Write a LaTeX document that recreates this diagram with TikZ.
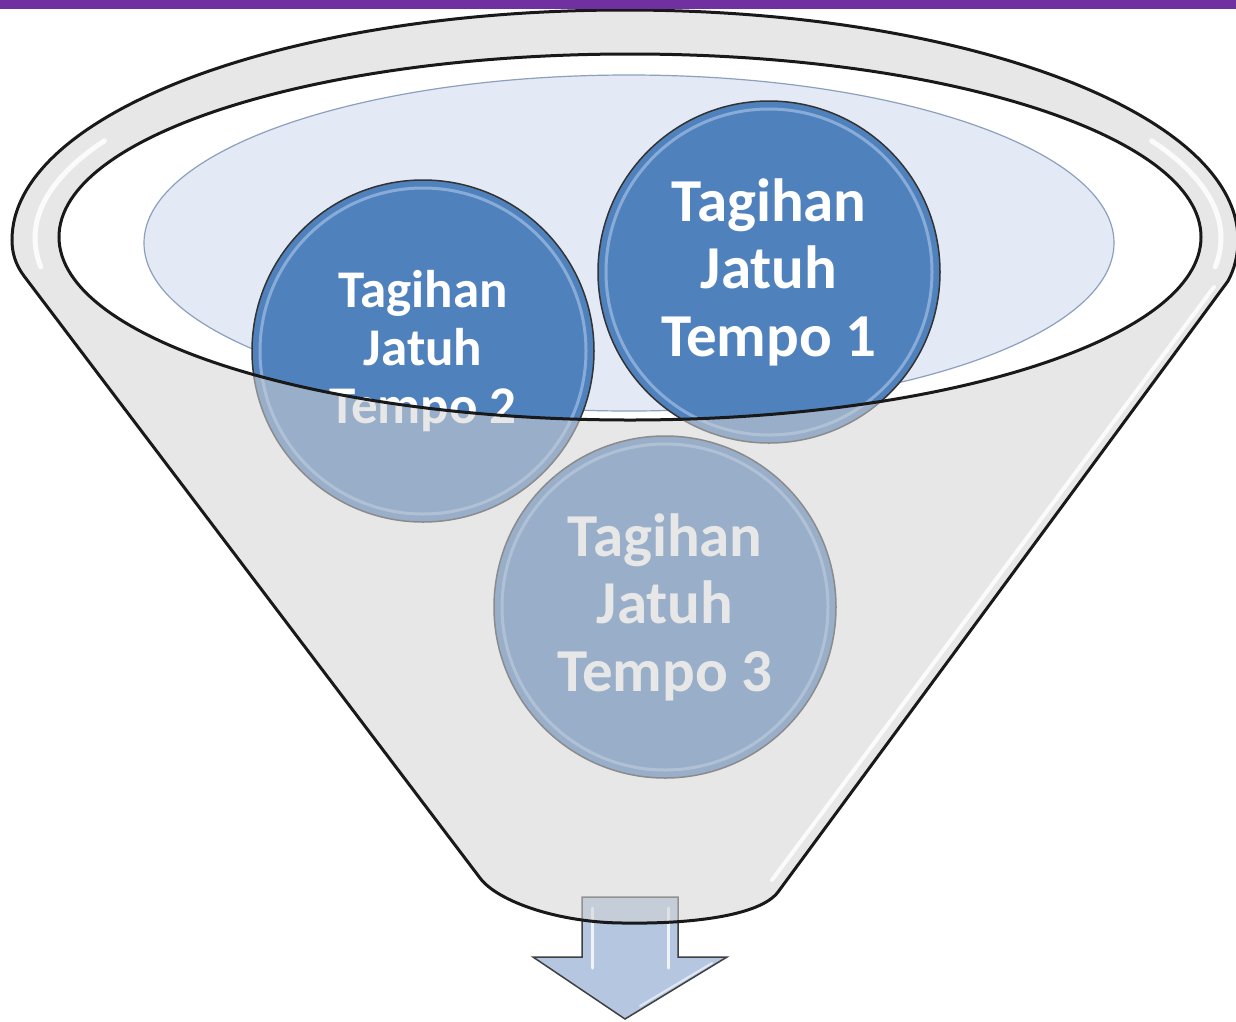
\documentclass[tikz,border=0pt]{standalone}
\usepackage{fontspec}
\setmainfont{Carlito}
\definecolor{cblue}{HTML}{4F81BD}
\definecolor{cring}{HTML}{B8D0EE}
\definecolor{cwater}{HTML}{E4EAF5}
\definecolor{cwaterline}{HTML}{8CA0BD}
\definecolor{cgray}{HTML}{D4D4D4}
\definecolor{carrow}{HTML}{B4C6E0}
\definecolor{cpurple}{HTML}{7030A0}
\begin{document}
\begin{tikzpicture}[x=1pt,y=-1pt,
  bubble/.style={circle, minimum size=342pt, inner sep=0pt, fill=cblue,
    draw=black!80, line width=1.5pt, text=white, align=center,
    font=\bfseries\fontsize{61}{67.5}\selectfont},
  smallbubble/.style={bubble, font=\bfseries\fontsize{53}{58}\selectfont},
  ring/.style={draw=cring, line width=3pt, opacity=0.55},
  outline/.style={draw=black!90, line width=3pt},
  gloss/.style={draw=white, line width=5pt, opacity=0.85, line cap=round}]
\useasboundingbox (0,0) rectangle (1236,1021);
\fill[white] (0,0) rectangle (1236,1021);
% water surface
\draw[fill=cwater, draw=cwaterline, line width=1.2pt] (629,243) ellipse [x radius=485, y radius=168];
% circles
\node[smallbubble] (c2) at (423,351) {Tagihan\\Jatuh\\Tempo 2};
\draw[ring] (c2.center) circle (163);
\node[bubble] (c1) at (769,272) {Tagihan\\Jatuh\\Tempo 1};
\draw[ring] (c1.center) circle (163);
\node[bubble] (c3) at (665,607) {Tagihan\\Jatuh\\Tempo 3};
\draw[ring] (c3.center) circle (163);
% arrow
\draw[fill=carrow, draw=black!75, line width=1.5pt]
  (582,897) -- (678,897) -- (678,957) -- (727,957) -- (625,1019) -- (533,957) -- (582,957) -- cycle;
\draw[white, line width=3pt, opacity=0.8, line cap=round] (592,908) -- (592,968);
\draw[white, line width=3pt, opacity=0.8, line cap=round] (668,908) -- (668,968);
\draw[white, line width=2pt, opacity=0.6, line cap=round] (712,963) -- (640,1006);
% funnel body (translucent, with opening)
\fill[cgray, fill opacity=0.55, even odd rule]
  (480,878) -- (24,276) .. controls (15,264) and (12,252) .. (12,240)
  arc[start angle=180, end angle=360, x radius=613, y radius=230]
  .. controls (1238,254) and (1235,268) .. (1228,281) -- (778,892)
  .. controls (760,916) and (690,924) .. (625,923)
  .. controls (560,923) and (498,902) .. (480,878) -- cycle
  (630,237) ellipse [x radius=571, y radius=183];
% glossy highlights
\draw[gloss] (628,238) ++(208:593 and 207) arc[start angle=208, end angle=172, x radius=593, y radius=207];
\draw[gloss] (628,238) ++(-28:593 and 207) arc[start angle=-28, end angle=8, x radius=593, y radius=207];
\draw[gloss, line width=4pt] (1214,287) -- (772,880);
% funnel outlines
\draw[outline]
  (480,878) -- (24,276) .. controls (15,264) and (12,252) .. (12,240)
  arc[start angle=180, end angle=360, x radius=613, y radius=230]
  .. controls (1238,254) and (1235,268) .. (1228,281) -- (778,892)
  .. controls (760,916) and (690,924) .. (625,923)
  .. controls (560,923) and (498,902) .. (480,878) -- cycle;
\draw[outline] (630,237) ellipse [x radius=571, y radius=183];
% top bar
\fill[cpurple] (0,0) rectangle (1236,9);
\end{tikzpicture}
\end{document}
